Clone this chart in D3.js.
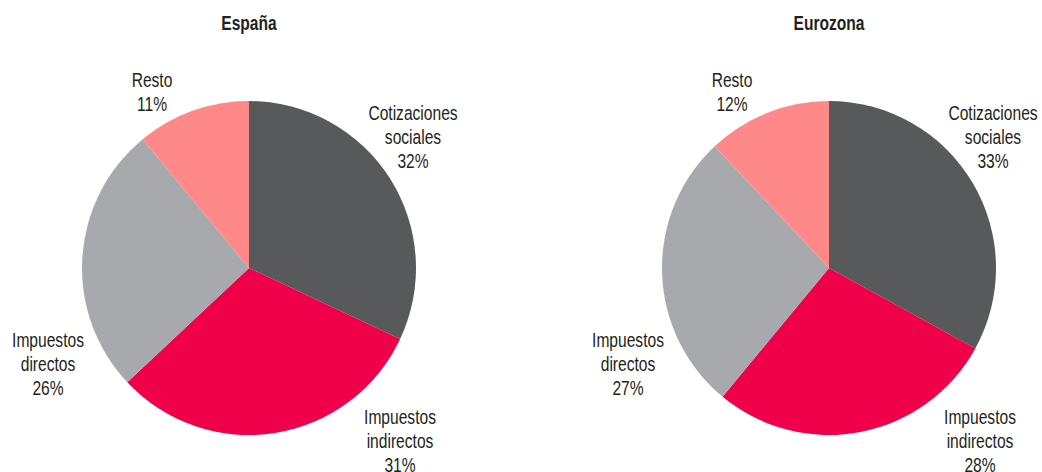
<!DOCTYPE html>
<html>
<head>
<meta charset="utf-8">
<script src="https://cdn.jsdelivr.net/npm/d3@7"></script>
<style>
  body { margin: 0; background: #fff; }
  svg text { font-family: "Liberation Sans", Arial, sans-serif; fill: #231f20; }
</style>
</head>
<body>
<svg id="viz" width="1042" height="472"></svg>
<script>
// data
const categories = ["Cotizaciones sociales", "Impuestos indirectos", "Impuestos directos", "Resto"];
const labelLines = [["Cotizaciones", "sociales"], ["Impuestos", "indirectos"], ["Impuestos", "directos"], ["Resto"]];
const titles = ["España", "Eurozona"];
const espana = [32, 31, 26, 11];
const eurozona = [33, 28, 27, 12];
const colors = ["#58595b", "#f0004b", "#a7a9ac", "#ff8888"];

// label placement relative to the pie centre
const labelOffsets = [[164, -131], [151, 173], [-201, 96], [-97, -176]];
const narrow = 0.8; // condensed look: squeeze text horizontally

const svg = d3.select("#viz");
const radius = 167;
const centers = [249, 829];
const cy = 268;

const color = d3.scaleOrdinal().domain(categories).range(colors);
const pie = d3.pie().sort(null).value((d) => d.value);
const arc = d3.arc().innerRadius(0).outerRadius(radius);

[espana, eurozona].forEach((values, k) => {
    const data = categories.map((c, i) => ({cat: c, value: values[i], i}));
    const g = svg.append("g").attr("transform", `translate(${centers[k]},${cy})`);

    svg.append("text")
        .attr("transform", `translate(${centers[k]},30) scale(${narrow},1)`)
        .attr("text-anchor", "middle")
        .style("font-weight", "bold")
        .style("font-size", "19.5px")
        .text(titles[k]);

    g.selectAll("path")
        .data(pie(data))
        .enter()
        .append("path")
        .attr("d", arc)
        .attr("fill", (d) => color(d.data.cat));

    const labels = g.selectAll("text.lbl")
        .data(pie(data))
        .enter()
        .append("text")
        .attr("class", "lbl")
        .attr("text-anchor", "middle")
        .style("font-size", "19.5px")
        .attr("transform", (d) => {
            const o = labelOffsets[d.data.i];
            const n = labelLines[d.data.i].length + 1;
            return `translate(${o[0]},${o[1] - (n - 1) * 12 + 7}) scale(${narrow},1)`;
        });

    labels.each(function (d) {
        const lines = labelLines[d.data.i].concat([d.value + "%"]);
        d3.select(this).selectAll("tspan")
            .data(lines)
            .enter()
            .append("tspan")
            .attr("x", 0)
            .attr("dy", (t, j) => j === 0 ? 0 : 24)
            .text((t) => t);
    });
});
</script>
</body>
</html>
